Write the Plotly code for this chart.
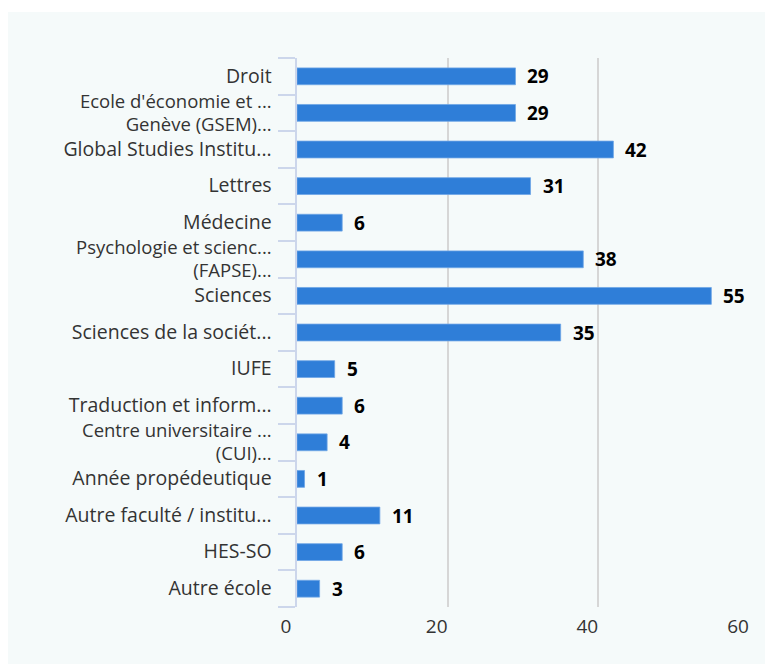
import plotly.graph_objects as go

categories = [
    "Droit",
    "Ecole d'économie et ...<br>Genève (GSEM)...",
    "Global Studies Institu...",
    "Lettres",
    "Médecine",
    "Psychologie et scienc...<br>(FAPSE)...",
    "Sciences",
    "Sciences de la sociét...",
    "IUFE",
    "Traduction et inform...",
    "Centre universitaire ...<br>(CUI)...",
    "Année propédeutique",
    "Autre faculté / institu...",
    "HES-SO",
    "Autre école",
]
values = [29, 29, 42, 31, 6, 38, 55, 35, 5, 6, 4, 1, 11, 6, 3]
x_ticks = [0, 20, 40, 60]

# page has an 8px body margin; figure coordinates = page - 8
W, H = 765, 656
L, R, T, B = 289, 24, 50, 57
pw, ph = W - L - R, H - T - B

FONT = "Open Sans"
LABEL_PX = 19.5
MULTI_PX = 18.5


def styled(lbl):
    parts = lbl.split("<br>")
    size = LABEL_PX if len(parts) == 1 else MULTI_PX
    return "<br>".join(f'<span style="font-size:{size}px">{p}</span>' for p in parts)


fig = go.Figure()
fig.add_trace(go.Bar(
    x=values, y=categories, orientation="h",
    marker=dict(color="#2f7ed8", line=dict(color="#6fa6e6", width=0.8)),
    width=0.46, hoverinfo="skip",
))

for c, v in zip(categories, values):
    fig.add_annotation(x=v, y=c, text=str(v), showarrow=False, xanchor="left",
                       xshift=10, font=dict(family=FONT, size=19, color="#000000", weight="bold"))

# panel background
fig.add_shape(type="rect", xref="paper", yref="paper",
              x0=(0 - L) / pw, x1=(W - L) / pw,
              y0=(H - B - H) / ph, y1=(H - B - 4) / ph,
              fillcolor="#f5fafa", line=dict(width=0), layer="below")

fig.update_layout(
    width=W, height=H,
    margin=dict(l=L, r=R, t=T, b=B, autoexpand=False),
    paper_bgcolor="#ffffff", plot_bgcolor="#f5fafa",
    showlegend=False,
    font=dict(family=FONT, size=19, color="#333333"),
    xaxis=dict(range=[0, 60], tickvals=x_ticks, showgrid=True,
               gridcolor="#d6d6d6", gridwidth=1.5, zeroline=False,
               showline=False, ticks="", ticklabelshift=-11, ticklabelstandoff=6,
               tickfont=dict(family=FONT, size=19, color="#333333"),
               automargin=False, fixedrange=True),
    yaxis=dict(type="category", autorange="reversed", tickson="boundaries",
               ticks="outside", ticklen=17, tickcolor="#ccd6eb", tickwidth=1.5,
               showline=True, linecolor="#ccd6eb", linewidth=1.5,
               showgrid=False, zeroline=False, ticklabelstandoff=20,
               tickvals=categories, ticktext=[styled(c) for c in categories],
               tickfont=dict(family=FONT, size=18, color="#333333"),
               automargin=False, fixedrange=True),
)

fig.write_html("out.html")
